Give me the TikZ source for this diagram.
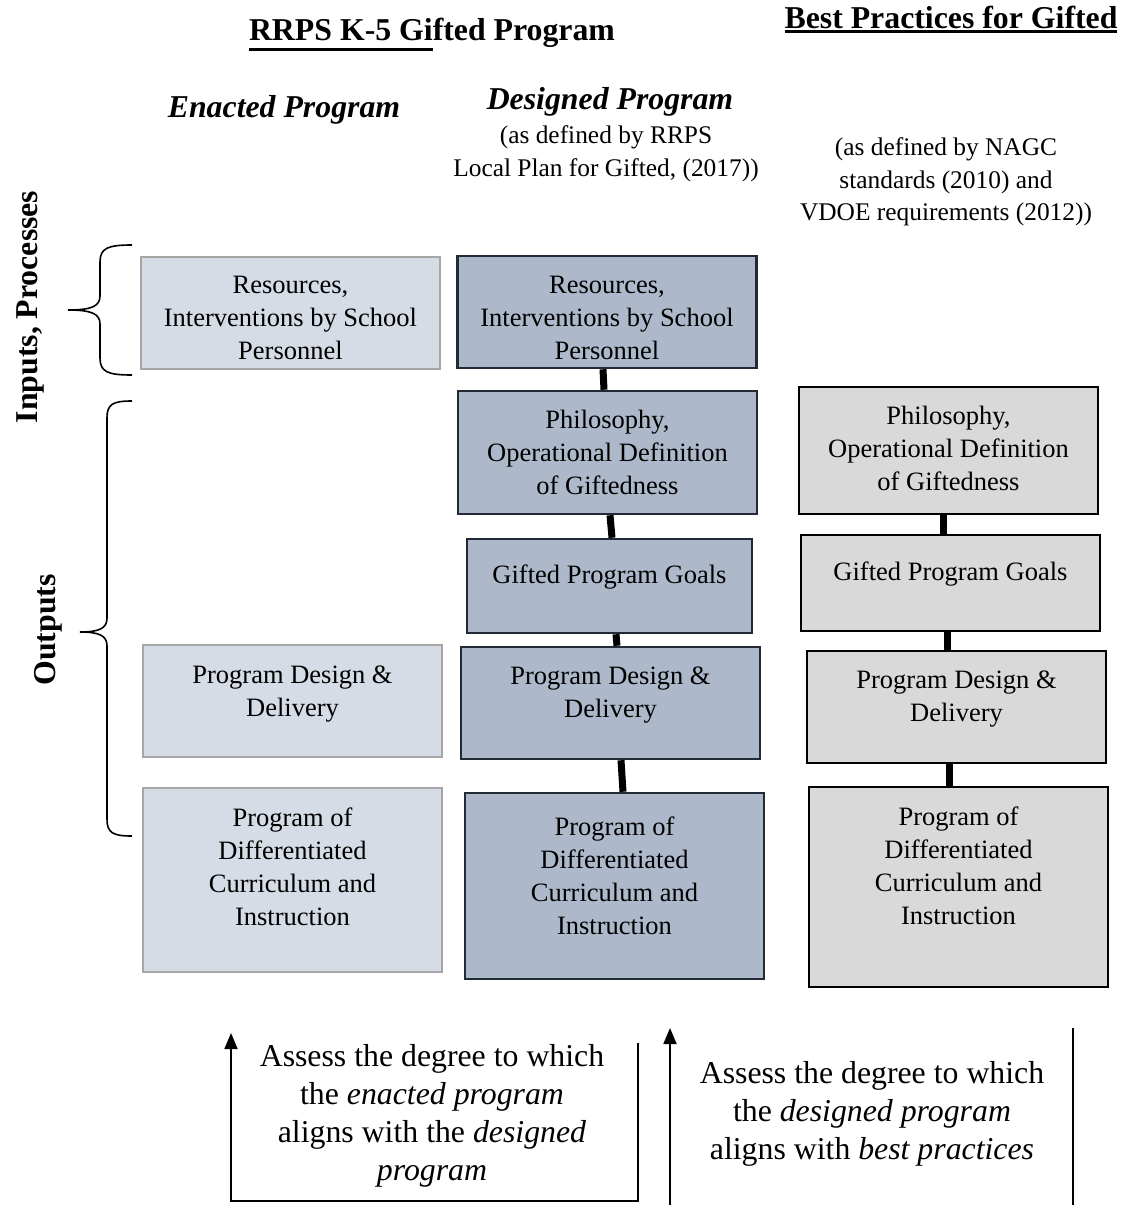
\documentclass[tikz,border=0pt]{standalone}
\usepackage{fontspec}
\setmainfont{Liberation Serif}
\usetikzlibrary{arrows.meta}

\definecolor{enactfill}{HTML}{D6DCE5}
\definecolor{enactline}{HTML}{A6A6A6}
\definecolor{designfill}{HTML}{ADB9CA}
\definecolor{designline}{HTML}{222A35}
\definecolor{bestfill}{HTML}{D9D9D9}

\newsavebox{\hdbox}
\newcommand{\hdul}[2]{\sbox{\hdbox}{#2}\rlap{\rule[-#1]{\wd\hdbox}{3pt}}\usebox{\hdbox}}

\begin{document}
\begin{tikzpicture}[x=1pt,y=-1pt,
  heading/.style={font=\fontsize{31.8}{38}\selectfont\bfseries},
  colhead/.style={font=\fontsize{31.8}{38}\selectfont\bfseries\itshape},
  source/.style={align=center,font=\fontsize{25.4}{32.5}\selectfont},
  boxtext/.style={align=center,font=\fontsize{26.5}{33}\selectfont},
  assess/.style={align=center,font=\fontsize{31.8}{38}\selectfont},
  enacted/.style={draw=enactline,fill=enactfill,line width=2.5pt,minimum width=299pt,inner sep=0pt},
  designed/.style={draw=designline,fill=designfill,line width=2.5pt,minimum width=299pt,inner sep=0pt},
  best/.style={draw=black,fill=bestfill,line width=2.5pt,minimum width=299pt,inner sep=0pt},
  link/.style={line width=7pt},
  brace/.style={line width=1.6pt},
  assessline/.style={line width=1.8pt}]

\useasboundingbox (0,0) rectangle (1135,1205);

% headings
\node[heading,anchor=base] (rrps) at (432,40) {\hdul{10.5pt}{RRPS K-5 Gi}fted Program};
\node[heading,anchor=base] (bestp) at (951,28) {\hdul{5pt}{Best Practices for Gifted}};
\node[colhead,anchor=base] (enact) at (284,117) {Enacted Program};
\node[colhead,anchor=base] (design) at (610,109) {Designed Program};
\node[source] (designsrc) at (606,154) {(as defined by RRPS\\Local Plan for Gifted, (2017))};
\node[source] (bestsrc) at (946,182) {(as defined by NAGC\\standards (2010) and\\VDOE requirements (2012))};

% side labels and braces
\node[heading,rotate=90] (inputs) at (30,307) {Inputs, Processes};
\node[heading,rotate=90] (outputs) at (48,630) {Outputs};
\draw[brace] (132,245) .. controls (108,245) and (100,248) .. (100,262) -- (100,296)
  .. controls (100,306) and (92,310) .. (68,310) .. controls (92,310) and (100,314) .. (100,324)
  -- (100,358) .. controls (100,372) and (108,375) .. (132,375);
\draw[brace] (132,401) .. controls (113,401) and (107,404) .. (107,418) -- (107,618)
  .. controls (107,628) and (100,632) .. (80,632) .. controls (100,632) and (107,636) .. (107,646)
  -- (107,819) .. controls (107,833) and (113,836) .. (132,836);

% enacted program
\node[enacted,minimum height=112pt] (E1) at (290.5,313) {};
\node[enacted,minimum height=112pt] (E2) at (292.5,701) {};
\node[enacted,minimum height=184pt] (E3) at (292.5,880) {};
\node[boxtext] (E1t) at (290.5,318) {Resources,\\Interventions by School\\Personnel};
\node[boxtext] (E2t) at (292.5,694) {Program Design \&\\Delivery};
\node[boxtext] (E3t) at (292.5,867) {Program of\\Differentiated\\Curriculum and\\Instruction};

% designed program
\node[designed,minimum height=112pt] (D1) at (607,312) {};
\node[designed,minimum height=123pt] (D2) at (607.5,452.5) {};
\node[designed,minimum width=285pt,minimum height=94pt] (D3) at (609.5,586) {};
\node[designed,minimum height=112pt] (D4) at (610.5,703) {};
\node[designed,minimum height=186pt] (D5) at (614.5,886) {};
\draw[link] ([xshift=-4pt]D1.south) -- ([xshift=-3.5pt]D2.north);
\draw[link] ([xshift=2.5pt]D2.south) -- ([xshift=2.5pt]D3.north);
\draw[link] ([xshift=6.5pt]D3.south) -- ([xshift=6.5pt]D4.north);
\draw[link] ([xshift=10.5pt]D4.south) -- ([xshift=8.5pt]D5.north);
\node[boxtext] (D1t) at (607,318) {Resources,\\Interventions by School\\Personnel};
\node[boxtext] (D2t) at (607.5,452) {Philosophy,\\Operational Definition\\of Giftedness};
\node[boxtext] (D3t) at (609.5,577) {Gifted Program Goals};
\node[boxtext] (D4t) at (610.5,695) {Program Design \&\\Delivery};
\node[boxtext] (D5t) at (614.5,876) {Program of\\Differentiated\\Curriculum and\\Instruction};

% best practices
\node[best,minimum height=127pt] (B1) at (948.5,450.5) {};
\node[best,minimum height=96pt] (B2) at (950.5,583) {};
\node[best,minimum height=112pt] (B3) at (956.5,707) {};
\node[best,minimum height=200pt] (B4) at (958.5,887) {};
\draw[link] ([xshift=-5.5pt]B1.south) -- ([xshift=-7.5pt]B2.north);
\draw[link] ([xshift=-3.5pt]B2.south) -- ([xshift=-9.5pt]B3.north);
\draw[link] ([xshift=-7.5pt]B3.south) -- ([xshift=-9.5pt]B4.north);
\node[boxtext] (B1t) at (948.5,448) {Philosophy,\\Operational Definition\\of Giftedness};
\node[boxtext] (B2t) at (950.5,574) {Gifted Program Goals};
\node[boxtext] (B3t) at (956.5,699) {Program Design \&\\Delivery};
\node[boxtext] (B4t) at (958.5,866) {Program of\\Differentiated\\Curriculum and\\Instruction};

% alignment checks
\coordinate (l1) at (638,1043);
\coordinate (l2) at (638,1201);
\coordinate (l3) at (231,1201);
\coordinate (l4) at (231,1033);
\coordinate (r1) at (670,1205);
\coordinate (r2) at (670,1028);
\coordinate (s1) at (1073,1028);
\coordinate (s2) at (1073,1205);
\draw[assessline,-{Triangle[width=13pt,length=16pt]}] (l1) -- (l2) -- (l3) -- (l4);
\draw[assessline,-{Triangle[width=13pt,length=16pt]}] (r1) -- (r2);
\draw[assessline] (s1) -- (s2);
\node[assess] (assess1) at (432,1116) {Assess the degree to which\\the \textit{enacted program}\\aligns with the \textit{designed}\\\textit{program}};
\node[assess] (assess2) at (872,1114) {Assess the degree to which\\the \textit{designed program}\\aligns with \textit{best practices}};

\end{tikzpicture}
\end{document}
